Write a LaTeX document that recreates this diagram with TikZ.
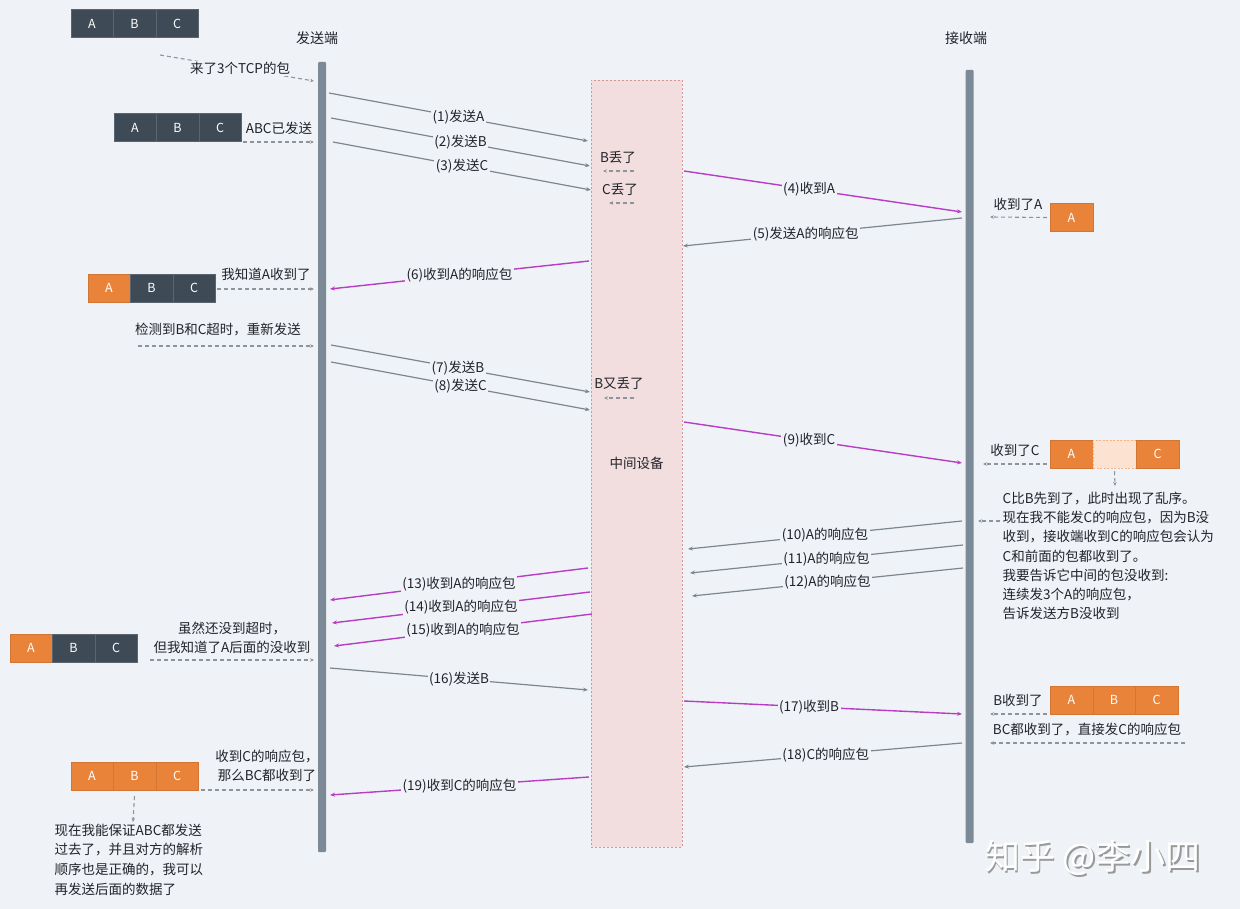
\documentclass[tikz,border=0pt]{standalone}
\usepackage{fontspec}
\setmainfont{Noto Sans CJK SC}
\usetikzlibrary{arrows.meta}
\definecolor{bg}{RGB}{239,243,247}
\definecolor{life}{RGB}{124,138,151}
\definecolor{dark}{RGB}{62,74,86}
\definecolor{orng}{RGB}{233,131,58}
\definecolor{lorng}{RGB}{251,226,209}
\definecolor{midfill}{RGB}{242,222,223}
\definecolor{midline}{RGB}{214,150,150}
\definecolor{mag}{RGB}{184,60,196}
\definecolor{arrgray}{RGB}{125,134,143}
\definecolor{dashgray}{RGB}{140,148,156}
\definecolor{txt}{RGB}{32,36,42}
\tikzset{
  lbl/.style={font=\fontsize{13.5}{16}\selectfont, text=txt, inner sep=0.5pt},
  onl/.style={lbl, fill=bg, inner sep=1.5pt},
  msg/.style={draw=arrgray, line width=1.2pt, -{Stealth[length=5pt,width=4pt]}},
  mmsg/.style={draw=mag, line width=1.4pt, -{Stealth[length=5pt,width=4pt]}},
  note/.style={draw=dashgray, line width=1.1pt, dash pattern=on 4pt off 3pt, -{Stealth[length=4pt,width=3.5pt]}},
  cell/.style={minimum width=42.5pt, minimum height=28pt, inner sep=0pt, text=white,
    font=\fontsize{12.5}{14}\selectfont},
  dcell/.style={cell, fill=dark, draw=dark!85!white, line width=0.5pt},
  ocell/.style={cell, fill=orng, draw=orng!90!black, line width=0.4pt},
  ecell/.style={cell, fill=lorng, draw=orng!60!white, line width=0.5pt, dash pattern=on 2pt off 1.5pt},
  midbox/.style={fill=midfill, draw=midline, line width=0.6pt, dash pattern=on 2pt off 2pt,
    minimum width=91pt, minimum height=767pt, inner sep=0pt, font=\fontsize{13.5}{16}\selectfont, text=txt},
  lifeline/.style={fill=life, inner sep=0pt, minimum width=8pt, rounded corners=1pt}
}
\begin{document}
\begin{tikzpicture}[x=1pt,y=-1pt]
\fill[bg] (0,0) rectangle (1240,909);
\useasboundingbox (0,0) rectangle (1240,909);

% middle device and lifelines
\node[midbox] (mid) at (636.5,463.5) {中间设备};
\node[lifeline, minimum height=790pt] (sl) at (322,457) {};
\node[lifeline, minimum height=773pt] (rl) at (969.5,456.5) {};
\node[lbl, font=\fontsize{14}{16}\selectfont] (sname) at (317,38) {发送端};
\node[lbl, font=\fontsize{14}{16}\selectfont] (rname) at (966,38) {接收端};

% packets
\node[dcell] (p1a) at (92,23.5) {A};
\node[dcell] (p1b) at (134.5,23.5) {B};
\node[dcell] (p1c) at (177,23.5) {C};

\node[dcell] (p2a) at (135,127.5) {A};
\node[dcell] (p2b) at (177.5,127.5) {B};
\node[dcell] (p2c) at (220,127.5) {C};

\node[ocell] (p3a) at (109,288) {A};
\node[dcell] (p3b) at (151.5,288) {B};
\node[dcell] (p3c) at (194,288) {C};

\node[ocell] (p4a) at (1071.5,217.5) {A};

\node[ocell] (p5a) at (1071.5,454) {A};
\node[ecell] (p5b) at (1114.5,454) {};
\node[ocell] (p5c) at (1157.5,454) {C};

\node[ocell] (p6a) at (31,648) {A};
\node[dcell] (p6b) at (73.5,648) {B};
\node[dcell] (p6c) at (116,648) {C};

\node[ocell] (p7a) at (1071.5,700) {A};
\node[ocell] (p7b) at (1114,700) {B};
\node[ocell] (p7c) at (1156.5,700) {C};

\node[ocell] (p8a) at (92,776) {A};
\node[ocell] (p8b) at (134.5,776) {B};
\node[ocell] (p8c) at (177,776) {C};

% coordinates for connector ends
\coordinate (s1) at (329,93);   \coordinate (m1) at (588,141);
\coordinate (s2) at (331,118);  \coordinate (m2) at (590,166);
\coordinate (s3) at (333,142);  \coordinate (m3) at (591,190);
\coordinate (m4) at (684,171);  \coordinate (r4) at (962,212);
\coordinate (r5) at (962,218);  \coordinate (m5) at (683,246);
\coordinate (m6) at (589,261);  \coordinate (s6) at (330,289);
\coordinate (s7) at (331,345);  \coordinate (m7) at (590,392);
\coordinate (s8) at (331,362);  \coordinate (m8) at (590,410);
\coordinate (m9) at (684,422);  \coordinate (r9) at (962,463);
\coordinate (r10) at (962,521); \coordinate (m10) at (688,549);
\coordinate (r11) at (963,545); \coordinate (m11) at (690,573);
\coordinate (r12) at (963,568); \coordinate (m12) at (692,596);
\coordinate (m13) at (588,568); \coordinate (s13) at (330,600);
\coordinate (m14) at (590,592); \coordinate (s14) at (332,623);
\coordinate (m15) at (592,614); \coordinate (s15) at (334,646);
\coordinate (s16) at (330,668); \coordinate (m16) at (588,690);
\coordinate (m17) at (684,701); \coordinate (r17) at (962,714);
\coordinate (r18) at (962,743); \coordinate (m18) at (684,767);
\coordinate (m19) at (589,777); \coordinate (s19) at (330,795);

% messages
\draw[msg] (s1) -- node[onl, pos=0.5] (l1) {(1)发送A} (m1);
\draw[msg] (s2) -- node[onl, pos=0.5] (l2) {(2)发送B} (m2);
\draw[msg] (s3) -- node[onl, pos=0.5] (l3) {(3)发送C} (m3);
\draw[mmsg] (m4) -- node[onl, pos=0.45] (l4) {(4)收到A} (r4);
\draw[msg] (r5) -- node[onl, pos=0.56] (l5) {(5)发送A的响应包} (m5);
\draw[mmsg] (m6) -- node[onl, pos=0.5] (l6) {(6)收到A的响应包} (s6);
\draw[msg] (s7) -- node[onl, pos=0.49] (l7) {(7)发送B} (m7);
\draw[msg] (s8) -- node[onl, pos=0.5] (l8) {(8)发送C} (m8);
\draw[mmsg] (m9) -- node[onl, pos=0.45] (l9) {(9)收到C} (r9);
\draw[msg] (r10) -- node[onl, pos=0.5] (l10) {(10)A的响应包} (m10);
\draw[msg] (r11) -- node[onl, pos=0.5] (l11) {(11)A的响应包} (m11);
\draw[msg] (r12) -- node[onl, pos=0.5] (l12) {(12)A的响应包} (m12);
\draw[mmsg] (m13) -- node[onl, pos=0.5] (l13) {(13)收到A的响应包} (s13);
\draw[mmsg] (m14) -- node[onl, pos=0.5] (l14) {(14)收到A的响应包} (s14);
\draw[mmsg] (m15) -- node[onl, pos=0.5] (l15) {(15)收到A的响应包} (s15);
\draw[msg] (s16) -- node[onl, pos=0.5] (l16) {(16)发送B} (m16);
\draw[mmsg] (m17) -- node[onl, pos=0.45] (l17) {(17)收到B} (r17);
\draw[msg] (r18) -- node[onl, pos=0.49] (l18) {(18)C的响应包} (m18);
\draw[mmsg] (m19) -- node[onl, pos=0.5] (l19) {(19)收到C的响应包} (s19);

% notes, left side
\coordinate (n0a) at (160,55); \coordinate (n0b) at (314,81);
\draw[note] (n0a) -- node[onl, pos=0.52] (t0) {来了3个TCP的包} (n0b);
\coordinate (n1a) at (243,142); \coordinate (n1b) at (314,142);
\draw[note] (n1a) -- (n1b);
\node[lbl] (t1) at (279,128) {ABC已发送};
\coordinate (n2a) at (217,289); \coordinate (n2b) at (314,289);
\draw[note] (n2a) -- (n2b);
\node[lbl] (t2) at (266,274) {我知道A收到了};
\coordinate (n3a) at (138,346); \coordinate (n3b) at (314,346);
\draw[note] (n3a) -- (n3b);
\node[lbl] (t3) at (218,330) {检测到B和C超时，重新发送};
\coordinate (n6a) at (150,660); \coordinate (n6b) at (314,660);
\draw[note] (n6a) -- (n6b);
\node[lbl, align=center, font=\fontsize{13.5}{19}\selectfont] (t6) at (232,638) {虽然还没到超时，\\但我知道了A后面的没收到};
\coordinate (n8a) at (201,790); \coordinate (n8b) at (314,790);
\draw[note] (n8a) -- (n8b);
\node[lbl, align=center, font=\fontsize{13.5}{19}\selectfont] (t8) at (267,766) {收到C的响应包，\\那么BC都收到了};
\coordinate (n8c) at (133,822);
\draw[note] (p8b.south) ++(0,6) -- (n8c);
\node[lbl, anchor=north west, align=left, font=\fontsize{13.5}{19.7}\selectfont] (t9) at (54,823)
  {现在我能保证ABC都发送\\过去了，并且对方的解析\\顺序也是正确的，我可以\\再发送后面的数据了};

% notes, middle
\coordinate (nb1) at (634,171); \coordinate (nb2) at (603,171);
\draw[note] (nb1) -- (nb2);
\node[lbl] (tb) at (618,157) {B丢了};
\coordinate (nc1) at (634,203); \coordinate (nc2) at (609,203);
\draw[note] (nc1) -- (nc2);
\node[lbl] (tc) at (620,189) {C丢了};
\coordinate (nd1) at (634,398); \coordinate (nd2) at (604,398);
\draw[note] (nd1) -- (nd2);
\node[lbl] (td) at (619,383) {B又丢了};

% notes, right side
\coordinate (ra) at (990,217);
\draw[note] (p4a.west) ++(-3,0) -- (ra);
\node[lbl] (ta) at (1018,204) {收到了A};
\coordinate (rc) at (983,464);
\draw[note] (1047,464) -- (rc);
\node[lbl] (tcc) at (1015,450) {收到了C};
\coordinate (rdn) at (1115,486);
\draw[note] (p5b.south) ++(0,3) -- (rdn);
\node[lbl, anchor=north west, align=left, font=\fontsize{13.5}{19.3}\selectfont] (tx) at (1002,491)
  {C比B先到了，此时出现了乱序。\\现在我不能发C的响应包，因为B没\\收到，接收端收到C的响应包会认为\\C和前面的包都收到了。\\我要告诉它中间的包没收到:\\连续发3个A的响应包，\\告诉发送方B没收到};
\coordinate (rx) at (978,521);
\draw[note] (1000,521) -- (rx);
\coordinate (rb) at (990,714);
\draw[note] (1047,714) -- (rb);
\node[lbl] (tbb) at (1018,700) {B收到了};
\coordinate (rbc) at (990,743);
\draw[note] (1185,743) -- (rbc);
\node[lbl] (tbc) at (1087,729) {BC都收到了，直接发C的响应包};

% watermark
\node[font=\fontsize{35}{37}\selectfont, text=black!40] (wms) at (1094.8,859.8) {知乎 @李小四};
\node[font=\fontsize{35}{37}\selectfont, text=white] (wm) at (1093,858) {知乎 @李小四};
\end{tikzpicture}
\end{document}
